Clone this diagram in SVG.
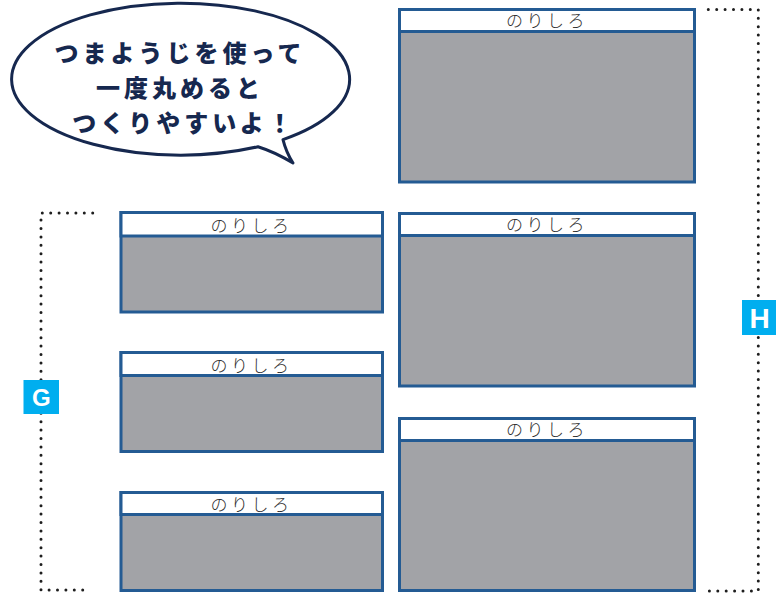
<svg xmlns="http://www.w3.org/2000/svg" width="776" height="595" viewBox="0 0 776 595">
<style>
.panel{fill:#a2a3a7;stroke:#245b93;stroke-width:3}
.strip{fill:#ffffff;stroke:#245b93;stroke-width:3}
.lbl{font-family:"Noto Sans CJK JP","Noto Sans",sans-serif;font-size:17px;font-weight:300;fill:#2e2e2e;letter-spacing:3.5px;text-anchor:middle}
.dots{fill:none;stroke:#1e1e1e;stroke-width:3;stroke-linecap:round;stroke-dasharray:0 8.4}
.tag{fill:#00aeef}
.tagt{font-family:"Liberation Sans",Arial,sans-serif;font-weight:700;fill:#ffffff;text-anchor:middle}
.bub{fill:#ffffff;stroke:#16284f;stroke-width:3;stroke-linejoin:round}
.btxt{font-family:"Noto Sans CJK JP",sans-serif;font-weight:900;font-size:24px;fill:#16284f;letter-spacing:4px;text-anchor:middle}
</style>
<g id="bubble">
<path class="bub" d="M258,146.7 A169,76 0 1,1 283,139.6 Q286,152 293,163 Q275,152 258,146.7 Z"/>
<text class="btxt" x="180" y="62">つまようじを使って</text>
<text class="btxt" x="180" y="97">一度丸めると</text>
<text class="btxt" x="184" y="132">つくりやすいよ！</text>
</g>
<g id="connectors">
<path class="dots" d="M92.7,213 L41,213 L41,590 L91,590"/>
<path class="dots" d="M708.3,9.5 L758.3,9.5 L758.3,591 L708,591"/>
</g>
<g id="tagG">
<rect class="tag" x="23.5" y="380" width="35.5" height="34"/>
<text class="tagt" x="41.3" y="405.5" font-size="24">G</text>
</g>
<g id="tagH">
<rect class="tag" x="742" y="300" width="34" height="35"/>
<text class="tagt" x="759.5" y="327.5" font-size="28">H</text>
</g>
<g id="R1">
<rect class="panel" x="399.5" y="9.5" width="295" height="172.5"/>
<rect class="strip" x="399.5" y="9.5" width="295" height="22"/>
<text class="lbl" x="547" y="27">のりしろ</text>
</g>
<g id="R2">
<rect class="panel" x="399.5" y="213.5" width="295" height="172.5"/>
<rect class="strip" x="399.5" y="213.5" width="295" height="22"/>
<text class="lbl" x="547" y="231">のりしろ</text>
</g>
<g id="R3">
<rect class="panel" x="399.5" y="418.5" width="295" height="172"/>
<rect class="strip" x="399.5" y="418.5" width="295" height="22"/>
<text class="lbl" x="547" y="436">のりしろ</text>
</g>
<g id="L1">
<rect class="panel" x="121" y="212.5" width="261.5" height="99.5"/>
<rect class="strip" x="121" y="212.5" width="261.5" height="23.5"/>
<text class="lbl" x="251.5" y="232">のりしろ</text>
</g>
<g id="L2">
<rect class="panel" x="121" y="352.5" width="261.5" height="99"/>
<rect class="strip" x="121" y="352.5" width="261.5" height="23"/>
<text class="lbl" x="251.5" y="371.5">のりしろ</text>
</g>
<g id="L3">
<rect class="panel" x="121" y="492.5" width="261.5" height="98"/>
<rect class="strip" x="121" y="492.5" width="261.5" height="22"/>
<text class="lbl" x="251.5" y="511">のりしろ</text>
</g>
</svg>
